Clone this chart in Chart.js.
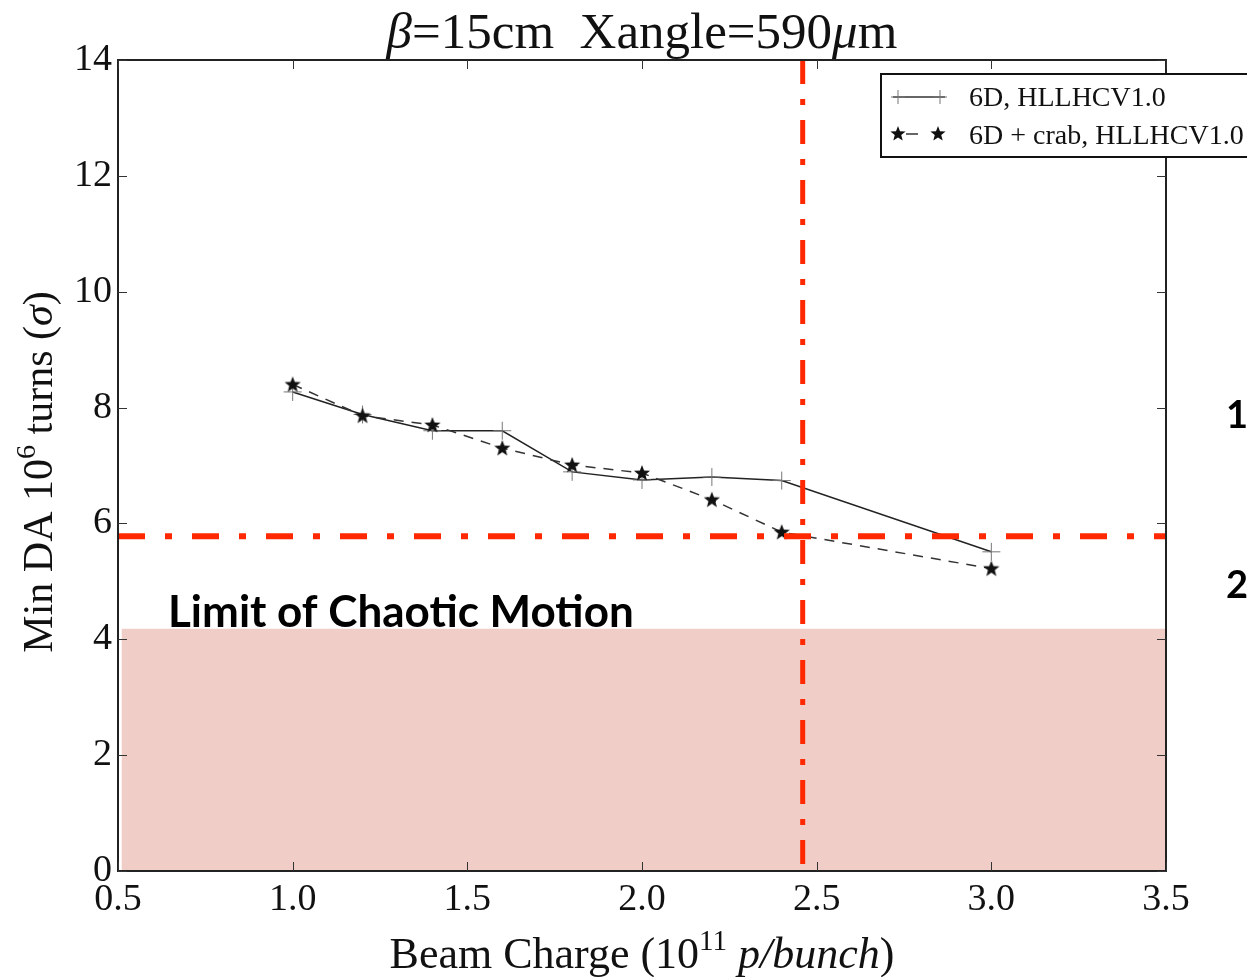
<!DOCTYPE html>
<html>
<head>
<meta charset="utf-8">
<script src="https://cdn.jsdelivr.net/npm/chart.js@4.4.1/dist/chart.umd.min.js"></script>
<style>
  html, body { margin: 0; padding: 0; background: #fff; }
  canvas { display: block; }
</style>
</head>
<body>
<canvas id="da_chart" width="1247" height="977"></canvas>
<script>
// beam charge (1e11 p/bunch)
const charge = [1.0, 1.2, 1.4, 1.6, 1.8, 2.0, 2.2, 2.4, 3.0]
// min DA, 1e6 turns (sigma)
const da6D = [8.27, 7.88, 7.60, 7.60, 6.89, 6.75, 6.80, 6.74, 5.51]
const da6DCrab = [8.40, 7.86, 7.70, 7.30, 7.01, 6.87, 6.41, 5.85, 5.22]

const xTicks = [0.5, 1.0, 1.5, 2.0, 2.5, 3.0, 3.5]
const yTicks = [0, 2, 4, 6, 8, 10, 12, 14]

const chaosLimit = 4.18
const daTarget = 5.78
const chargeTarget = 2.46

const RED = 'rgb(255,40,0)'
const PINK = 'rgb(240,205,198)'
const SERIF = '"Liberation Serif", "Times New Roman", serif'

function starPath(ctx, cx, cy, ro, ri) {
  ctx.beginPath()
  for (let i = 0; i < 10; i++) {
    const r = i % 2 ? ri : ro
    const a = -Math.PI / 2 + i * Math.PI / 5
    ctx.lineTo(cx + r * Math.cos(a), cy + r * Math.sin(a))
  }
  ctx.closePath()
}

// filled star marker
const starImg = document.createElement('canvas')
starImg.width = 20
starImg.height = 20
{
  const c = starImg.getContext('2d')
  starPath(c, 10, 10.5, 8.5, 3.6)
  c.fillStyle = '#111'
  c.fill()
}

function drawRuns(ctx, runs, x, y) {
  let total = 0
  runs.forEach(r => { ctx.font = r.font; total += ctx.measureText(r.t).width })
  let cx = x - total / 2
  runs.forEach(r => {
    ctx.font = r.font
    ctx.fillText(r.t, cx, y + (r.dy || 0))
    cx += ctx.measureText(r.t).width
  })
}

const decor = {
  id: 'decor',
  afterDraw(chart) {
    const { ctx, chartArea: a, scales: { x, y } } = chart
    ctx.save()

    // frame
    ctx.strokeStyle = '#222'
    ctx.lineWidth = 2
    ctx.strokeRect(a.left, a.top, a.right - a.left, a.bottom - a.top)

    // inward ticks on all four sides
    ctx.lineWidth = 1
    ctx.strokeStyle = '#333'
    ctx.beginPath()
    xTicks.forEach(v => {
      const px = Math.round(x.getPixelForValue(v)) + 0.5
      ctx.moveTo(px, a.bottom); ctx.lineTo(px, a.bottom - 9)
      ctx.moveTo(px, a.top); ctx.lineTo(px, a.top + 9)
    })
    yTicks.forEach(v => {
      const py = Math.round(y.getPixelForValue(v)) + 0.5
      ctx.moveTo(a.left, py); ctx.lineTo(a.left + 9, py)
      ctx.moveTo(a.right, py); ctx.lineTo(a.right - 9, py)
    })
    ctx.stroke()

    ctx.fillStyle = '#111'
    ctx.textBaseline = 'alphabetic'
    ctx.textAlign = 'left'

    // title
    drawRuns(ctx, [
      { t: 'β', font: 'italic 51px ' + SERIF },
      { t: '=15cm  Xangle=590', font: '51px ' + SERIF },
      { t: 'μ', font: 'italic 51px ' + SERIF },
      { t: 'm', font: '51px ' + SERIF }
    ], (a.left + a.right) / 2, 48)

    // x axis title
    drawRuns(ctx, [
      { t: 'Beam Charge (10', font: '44px ' + SERIF },
      { t: '11', font: '29px ' + SERIF, dy: -18 },
      { t: ' ', font: '44px ' + SERIF },
      { t: 'p/bunch', font: 'italic 44px ' + SERIF },
      { t: ')', font: '44px ' + SERIF }
    ], (a.left + a.right) / 2, 968)

    // y axis title
    ctx.save()
    ctx.translate(52, 472)
    ctx.rotate(-Math.PI / 2)
    drawRuns(ctx, [
      { t: 'Min DA 10', font: '42px ' + SERIF },
      { t: '6', font: '28px ' + SERIF, dy: -17 },
      { t: ' turns (', font: '42px ' + SERIF },
      { t: 'σ', font: 'italic 42px ' + SERIF },
      { t: ')', font: '42px ' + SERIF }
    ], 0, 0)
    ctx.restore()

    // chaotic motion label
    ctx.font = 'bold 44px Lato, "Open Sans", sans-serif'
    ctx.fillStyle = '#000'
    ctx.fillText('Limit of Chaotic Motion', 168, 627)

    // slide leftovers at right edge
    ctx.font = 'bold 38px Lato, "Open Sans", sans-serif'
    ctx.fillText('1', 1226, 428)
    ctx.fillText('2', 1226, 598)

    // legend
    const lx = 881, ly = 74
    ctx.fillStyle = '#fff'
    ctx.fillRect(lx, ly, 400, 83)
    ctx.strokeStyle = '#111'
    ctx.lineWidth = 2
    ctx.strokeRect(lx, ly, 400, 83)

    ctx.lineWidth = 1.5
    ctx.strokeStyle = '#333'
    ctx.beginPath()
    ctx.moveTo(893, 97); ctx.lineTo(945, 97)
    ctx.stroke()
    ctx.lineWidth = 1
    ctx.strokeStyle = '#777'
    ctx.beginPath()
    ;[898, 940].forEach(px => {
      ctx.moveTo(px - 7, 97); ctx.lineTo(px + 7, 97)
      ctx.moveTo(px, 90); ctx.lineTo(px, 104)
    })
    ctx.stroke()

    ctx.lineWidth = 1.5
    ctx.strokeStyle = '#333'
    ctx.beginPath()
    ctx.moveTo(906, 134); ctx.lineTo(918, 134)
    ctx.stroke()
    ctx.fillStyle = '#111'
    starPath(ctx, 898, 134, 8, 3.4); ctx.fill()
    starPath(ctx, 938, 134, 8, 3.4); ctx.fill()

    ctx.font = '28px ' + SERIF
    ctx.fillText('6D, HLLHCV1.0', 969, 106)
    ctx.fillText('6D + crab, HLLHCV1.0', 969, 144)

    ctx.restore()
  }
}

const tickFont = { family: SERIF, size: 38 }

new Chart(document.getElementById('da_chart'), {
  type: 'line',
  data: {
    datasets: [
      {
        label: 'charge limit',
        data: [{ x: chargeTarget, y: 14 }, { x: chargeTarget, y: 0 }],
        borderColor: RED,
        borderWidth: 5,
        borderDash: [24, 15, 6, 15],
        pointRadius: 0,
        order: 0
      },
      {
        label: 'DA limit',
        data: [{ x: 0.5, y: daTarget }, { x: 3.5, y: daTarget }],
        borderColor: RED,
        borderWidth: 6,
        borderDash: [27, 20, 7, 20],
        pointRadius: 0,
        order: 0
      },
      {
        label: '6D + crab, HLLHCV1.0',
        data: charge.map((c, i) => ({ x: c, y: da6DCrab[i] })),
        borderColor: '#333',
        borderWidth: 1.5,
        borderDash: [10, 8],
        pointStyle: starImg,
        pointRadius: 9,
        tension: 0,
        order: 1
      },
      {
        label: '6D, HLLHCV1.0',
        data: charge.map((c, i) => ({ x: c, y: da6D[i] })),
        borderColor: '#222',
        borderWidth: 1.5,
        pointStyle: 'cross',
        pointRadius: 9,
        pointBorderColor: '#777',
        pointBorderWidth: 1,
        tension: 0,
        order: 1
      },
      {
        label: 'chaotic region',
        data: [{ x: 0.51, y: chaosLimit }, { x: 3.5, y: chaosLimit }],
        borderWidth: 0,
        pointRadius: 0,
        fill: 'origin',
        backgroundColor: PINK,
        order: 2
      }
    ]
  },
  options: {
    responsive: false,
    animation: false,
    layout: { padding: { top: 60, right: 81, left: 0, bottom: 0 } },
    plugins: {
      legend: { display: false },
      tooltip: { enabled: false }
    },
    scales: {
      x: {
        type: 'linear',
        min: 0.5,
        max: 3.5,
        ticks: {
          stepSize: 0.5,
          autoSkip: false,
          maxRotation: 0,
          callback: v => v.toFixed(1),
          font: tickFont,
          color: '#111',
          padding: 6
        },
        grid: { display: false, drawTicks: false },
        border: { display: false },
        afterFit: s => { s.height = 106 }
      },
      y: {
        min: 0,
        max: 14,
        ticks: {
          stepSize: 2,
          font: tickFont,
          color: '#111',
          padding: 6
        },
        grid: { display: false, drawTicks: false },
        border: { display: false },
        afterFit: s => { s.width = 118 }
      }
    }
  },
  plugins: [decor]
})
</script>
</body>
</html>
